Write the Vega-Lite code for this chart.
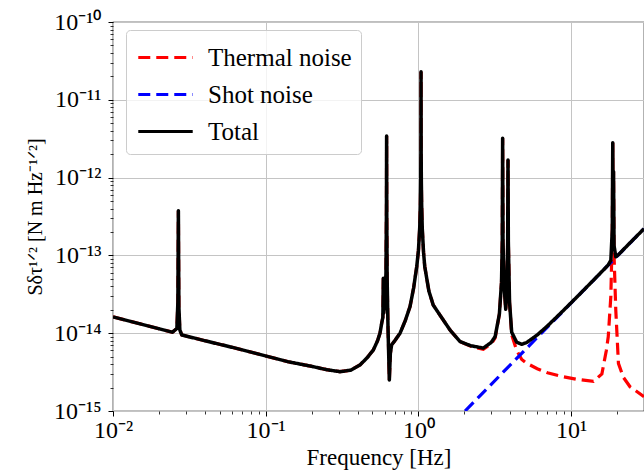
{
  "$schema": "https://vega.github.io/schema/vega-lite/v6.json",
  "width": 531,
  "height": 389,
  "autosize": "none",
  "padding": {"left": 113, "top": 22, "right": 0, "bottom": 61},
  "background": "white",
  "config": {
    "font": "Liberation Serif",
    "view": {"stroke": "black", "strokeWidth": 1.2}
  },
  "datasets": {
    "thermal": [
      {"f": 0.01, "S": 1.62e-14}, {"f": 0.015, "S": 1.32e-14}, {"f": 0.02, "S": 1.14e-14}, {"f": 0.0245, "S": 1.03e-14},
      {"f": 0.0262, "S": 1.15e-14}, {"f": 0.0266, "S": 2.5e-14}, {"f": 0.0268, "S": 3.76e-13}, {"f": 0.027, "S": 2.2e-14},
      {"f": 0.0274, "S": 1.1e-14}, {"f": 0.0282, "S": 9.5e-15}, {"f": 0.04, "S": 8.0e-15}, {"f": 0.06, "S": 6.6e-15},
      {"f": 0.1, "S": 5.1e-15}, {"f": 0.14, "S": 4.3e-15}, {"f": 0.2, "S": 3.75e-15}, {"f": 0.25, "S": 3.4e-15},
      {"f": 0.307, "S": 3.2e-15}, {"f": 0.36, "S": 3.35e-15}, {"f": 0.414, "S": 3.9e-15}, {"f": 0.46, "S": 4.8e-15},
      {"f": 0.507, "S": 6.1e-15}, {"f": 0.54, "S": 8.0e-15}, {"f": 0.56, "S": 1.0e-14}, {"f": 0.575, "S": 1.35e-14},
      {"f": 0.585, "S": 1.6e-14}, {"f": 0.589, "S": 5.1e-14}, {"f": 0.592, "S": 1.8e-14}, {"f": 0.605, "S": 2.5e-14},
      {"f": 0.613, "S": 6.0e-14}, {"f": 0.6175, "S": 4.0e-13}, {"f": 0.619, "S": 3.43e-12}, {"f": 0.6205, "S": 3.0e-13},
      {"f": 0.624, "S": 5.0e-14}, {"f": 0.632, "S": 1.2e-14}, {"f": 0.645, "S": 2.5e-15}, {"f": 0.655, "S": 5.5e-15},
      {"f": 0.668, "S": 7.1e-15}, {"f": 0.7, "S": 8.0e-15}, {"f": 0.758, "S": 1.0e-14}, {"f": 0.82, "S": 1.45e-14},
      {"f": 0.881, "S": 2.2e-14}, {"f": 0.93, "S": 3.8e-14}, {"f": 0.975, "S": 7.2e-14}, {"f": 1.0, "S": 1.15e-13},
      {"f": 1.02, "S": 2.3e-13}, {"f": 1.03, "S": 4.5e-13}, {"f": 1.035, "S": 9e-13}, {"f": 1.038, "S": 2.3e-12},
      {"f": 1.04, "S": 2.3e-11}, {"f": 1.042, "S": 2.2e-12}, {"f": 1.045, "S": 9e-13}, {"f": 1.05, "S": 4.5e-13},
      {"f": 1.06, "S": 2.2e-13}, {"f": 1.08, "S": 1.1e-13}, {"f": 1.1, "S": 7.2e-14}, {"f": 1.17, "S": 3.5e-14},
      {"f": 1.25, "S": 2.3e-14}, {"f": 1.386, "S": 1.7e-14}, {"f": 1.61, "S": 1.1e-14}, {"f": 1.873, "S": 7.8e-15},
      {"f": 2.2, "S": 6.8e-15}, {"f": 2.66, "S": 6.2e-15}, {"f": 3.0, "S": 7.3e-15}, {"f": 3.18, "S": 8.7e-15},
      {"f": 3.39, "S": 1.75e-14}, {"f": 3.5, "S": 4.5e-14}, {"f": 3.54, "S": 1.5e-13}, {"f": 3.56, "S": 3.2e-12},
      {"f": 3.58, "S": 1.5e-13}, {"f": 3.64, "S": 4e-14}, {"f": 3.73, "S": 2.0e-14}, {"f": 3.8, "S": 4e-14},
      {"f": 3.84, "S": 1.5e-13}, {"f": 3.86, "S": 1.68e-12}, {"f": 3.88, "S": 1.5e-13}, {"f": 3.95, "S": 2.5e-14},
      {"f": 4.08, "S": 9.5e-15}, {"f": 4.4, "S": 6.0e-15}, {"f": 4.75, "S": 4.6e-15}, {"f": 5.12, "S": 4.1e-15},
      {"f": 6.0, "S": 3.5e-15}, {"f": 7.0, "S": 3.1e-15}, {"f": 8.9, "S": 2.75e-15}, {"f": 11, "S": 2.55e-15},
      {"f": 14, "S": 2.4e-15}, {"f": 15.9, "S": 3.0e-15}, {"f": 17.0, "S": 6.0e-15}, {"f": 17.5, "S": 9.0e-15},
      {"f": 18.2, "S": 3.0e-14}, {"f": 18.6, "S": 2.0e-13}, {"f": 18.73, "S": 2.8e-12}, {"f": 18.85, "S": 2.0e-13},
      {"f": 18.95, "S": 1.2e-12}, {"f": 19.1, "S": 1.0e-13}, {"f": 19.6, "S": 2.0e-14}, {"f": 20.4, "S": 4.1e-15},
      {"f": 22, "S": 2.7e-15}, {"f": 24.3, "S": 2.05e-15}, {"f": 30, "S": 1.53e-15}
    ],
    "shot": [
      {"f": 2.02, "S": 1.0e-15}, {"f": 30, "S": 2.2e-13}
    ],
    "total": [
      {"f": 0.01, "S": 1.62e-14}, {"f": 0.015, "S": 1.32e-14}, {"f": 0.02, "S": 1.14e-14}, {"f": 0.0245, "S": 1.03e-14},
      {"f": 0.0262, "S": 1.15e-14}, {"f": 0.0266, "S": 2.5e-14}, {"f": 0.0268, "S": 3.76e-13}, {"f": 0.027, "S": 2.2e-14},
      {"f": 0.0274, "S": 1.1e-14}, {"f": 0.0282, "S": 9.5e-15}, {"f": 0.04, "S": 8.0e-15}, {"f": 0.06, "S": 6.6e-15},
      {"f": 0.1, "S": 5.1e-15}, {"f": 0.14, "S": 4.3e-15}, {"f": 0.2, "S": 3.75e-15}, {"f": 0.25, "S": 3.4e-15},
      {"f": 0.307, "S": 3.2e-15}, {"f": 0.36, "S": 3.35e-15}, {"f": 0.414, "S": 3.9e-15}, {"f": 0.46, "S": 4.8e-15},
      {"f": 0.507, "S": 6.1e-15}, {"f": 0.54, "S": 8.0e-15}, {"f": 0.56, "S": 1.0e-14}, {"f": 0.575, "S": 1.35e-14},
      {"f": 0.585, "S": 1.6e-14}, {"f": 0.589, "S": 5.1e-14}, {"f": 0.592, "S": 1.8e-14}, {"f": 0.605, "S": 2.5e-14},
      {"f": 0.613, "S": 6.0e-14}, {"f": 0.6175, "S": 4.0e-13}, {"f": 0.619, "S": 3.43e-12}, {"f": 0.6205, "S": 3.0e-13},
      {"f": 0.624, "S": 5.0e-14}, {"f": 0.632, "S": 1.2e-14}, {"f": 0.645, "S": 2.5e-15}, {"f": 0.655, "S": 5.5e-15},
      {"f": 0.668, "S": 7.1e-15}, {"f": 0.7, "S": 8.0e-15}, {"f": 0.758, "S": 1.0e-14}, {"f": 0.82, "S": 1.45e-14},
      {"f": 0.881, "S": 2.2e-14}, {"f": 0.93, "S": 3.8e-14}, {"f": 0.975, "S": 7.2e-14}, {"f": 1.0, "S": 1.15e-13},
      {"f": 1.02, "S": 2.3e-13}, {"f": 1.03, "S": 4.5e-13}, {"f": 1.035, "S": 9e-13}, {"f": 1.038, "S": 2.3e-12},
      {"f": 1.04, "S": 2.3e-11}, {"f": 1.042, "S": 2.2e-12}, {"f": 1.045, "S": 9e-13}, {"f": 1.05, "S": 4.5e-13},
      {"f": 1.06, "S": 2.2e-13}, {"f": 1.08, "S": 1.1e-13}, {"f": 1.1, "S": 7.2e-14}, {"f": 1.17, "S": 3.5e-14},
      {"f": 1.25, "S": 2.3e-14}, {"f": 1.386, "S": 1.7e-14}, {"f": 1.61, "S": 1.1e-14}, {"f": 1.873, "S": 7.8e-15},
      {"f": 2.2, "S": 6.9e-15}, {"f": 2.66, "S": 6.44e-15}, {"f": 3.0, "S": 7.62e-15}, {"f": 3.18, "S": 9.05e-15},
      {"f": 3.39, "S": 1.77e-14}, {"f": 3.5, "S": 4.5e-14}, {"f": 3.54, "S": 1.5e-13}, {"f": 3.56, "S": 3.2e-12},
      {"f": 3.58, "S": 1.5e-13}, {"f": 3.64, "S": 4e-14}, {"f": 3.73, "S": 2.03e-14}, {"f": 3.8, "S": 4e-14},
      {"f": 3.84, "S": 1.5e-13}, {"f": 3.86, "S": 1.68e-12}, {"f": 3.88, "S": 1.5e-13}, {"f": 3.95, "S": 2.53e-14},
      {"f": 4.08, "S": 1.03e-14}, {"f": 4.4, "S": 7.65e-15}, {"f": 4.75, "S": 7.2e-15}, {"f": 5.12, "S": 7.6e-15},
      {"f": 6.0, "S": 9.5e-15}, {"f": 7.0, "S": 1.24e-14}, {"f": 8.9, "S": 1.96e-14}, {"f": 11, "S": 2.97e-14},
      {"f": 14, "S": 4.8e-14}, {"f": 15.9, "S": 6.2e-14}, {"f": 17.0, "S": 7.1e-14}, {"f": 17.5, "S": 7.55e-14},
      {"f": 18.2, "S": 8.66e-14}, {"f": 18.6, "S": 2.17e-13}, {"f": 18.73, "S": 2.8e-12}, {"f": 18.85, "S": 2.18e-13},
      {"f": 18.95, "S": 1.2e-12}, {"f": 19.1, "S": 1.34e-13}, {"f": 19.6, "S": 9.6e-14}, {"f": 20.4, "S": 1.02e-13},
      {"f": 22, "S": 1.19e-13}, {"f": 24.3, "S": 1.45e-13}, {"f": 30, "S": 2.2e-13}
    ]
  },
  "resolve": {"axis": {"x": "independent", "y": "independent"}},
  "layer": [
    {
      "data": {"name": "thermal"},
      "mark": {"type": "line", "clip": true, "strokeWidth": 3.2, "strokeCap": "butt"},
      "encoding": {
        "x": {"field": "f", "type": "quantitative",
          "scale": {"type": "log", "domain": [0.01, 30], "nice": false},
          "axis": {"orient": "bottom", "values": [0.02,0.03,0.04,0.05,0.06,0.07,0.08,0.09,0.2,0.3,0.4,0.5,0.6,0.7,0.8,0.9,2,3,4,5,6,7,8,9,20],
            "labels": false, "grid": false, "domain": false, "tickSize": 3, "tickColor": "black", "tickWidth": 0.8, "title": null}},
        "y": {"field": "S", "type": "quantitative",
          "scale": {"type": "log", "domain": [1e-15, 1e-10], "nice": false},
          "axis": {"orient": "left", "values": [2e-15,3e-15,4e-15,5e-15,6e-15,7e-15,8e-15,9e-15,2e-14,3e-14,4e-14,5e-14,6e-14,7e-14,8e-14,9e-14,2e-13,3e-13,4e-13,5e-13,6e-13,7e-13,8e-13,9e-13,2e-12,3e-12,4e-12,5e-12,6e-12,7e-12,8e-12,9e-12,2e-11,3e-11,4e-11,5e-11,6e-11,7e-11,8e-11,9e-11],
            "labels": false, "grid": false, "domain": false, "tickSize": 3, "tickColor": "black", "tickWidth": 0.8, "title": null}},
        "color": {"datum": "Thermal noise", "type": "nominal",
          "scale": {"domain": ["Thermal noise", "Shot noise", "Total"], "range": ["#ff0000", "#0000ff", "#000000"]},
          "legend": {"orient": "none", "legendX": 13, "legendY": 8, "title": null, "symbolType": "M-1.65,0H1.65", "symbolSize": 1089, "symbolStrokeWidth": 3.2, "symbolOffset": 12, "labelOffset": 24, "labelFontSize": 25, "labelFont": "Liberation Serif", "labelColor": "black", "padding": 9, "rowPadding": 5, "fillColor": "rgba(255,255,255,0.8)", "strokeColor": "#cccccc", "cornerRadius": 4}},
        "strokeDash": {"datum": "Thermal noise", "type": "nominal",
          "scale": {"domain": ["Thermal noise", "Shot noise", "Total"], "range": [[12, 6], [12, 6], [1, 0]]},
          "legend": {"orient": "none", "legendX": 13, "legendY": 8, "title": null, "symbolType": "M-1.65,0H1.65", "symbolSize": 1089, "symbolStrokeWidth": 3.2, "symbolOffset": 12, "labelOffset": 24, "labelFontSize": 25, "labelFont": "Liberation Serif", "labelColor": "black", "padding": 9, "rowPadding": 5, "fillColor": "rgba(255,255,255,0.8)", "strokeColor": "#cccccc", "cornerRadius": 4}}
      }
    },
    {
      "data": {"name": "shot"},
      "mark": {"type": "line", "clip": true, "strokeWidth": 3.2, "strokeCap": "butt"},
      "encoding": {
        "x": {"field": "f", "type": "quantitative", "axis": null},
        "y": {"field": "S", "type": "quantitative", "axis": null},
        "color": {"datum": "Shot noise", "type": "nominal"},
        "strokeDash": {"datum": "Shot noise", "type": "nominal"}
      }
    },
    {
      "data": {"name": "total"},
      "mark": {"type": "line", "clip": true, "strokeWidth": 3.5, "strokeJoin": "round"},
      "encoding": {
        "x": {"field": "f", "type": "quantitative",
          "axis": {"orient": "bottom", "values": [0.01, 0.1, 1, 10],
            "labelExpr": "datum.value < 0.05 ? '10⁻²' : datum.value < 0.5 ? '10⁻¹' : datum.value < 5 ? '10⁰' : '10¹'",
            "grid": true, "gridColor": "#c4c4c4", "gridWidth": 1, "domain": false, "tickSize": 5, "tickColor": "black", "tickWidth": 1,
            "labelFontSize": 24, "labelFont": "Liberation Serif", "labelColor": "black", "labelPadding": 2, "labelFlush": false, "labelOverlap": false,
            "title": "Frequency [Hz]", "titleFontSize": 23, "titleFont": "Liberation Serif", "titleFontWeight": "normal", "titleColor": "black", "titlePadding": 4}},
        "y": {"field": "S", "type": "quantitative",
          "axis": {"orient": "left", "values": [1e-15, 1e-14, 1e-13, 1e-12, 1e-11, 1e-10],
            "labelExpr": "datum.value < 5e-15 ? '10⁻¹⁵' : datum.value < 5e-14 ? '10⁻¹⁴' : datum.value < 5e-13 ? '10⁻¹³' : datum.value < 5e-12 ? '10⁻¹²' : datum.value < 5e-11 ? '10⁻¹¹' : '10⁻¹⁰'",
            "grid": true, "gridColor": "#c4c4c4", "gridWidth": 1, "domain": false, "tickSize": 5, "tickColor": "black", "tickWidth": 1,
            "labelFontSize": 24, "labelFont": "Liberation Serif", "labelColor": "black", "labelPadding": 7, "labelFlush": false, "labelOverlap": false,
            "title": "Sδτ¹ᐟ² [N m Hz⁻¹ᐟ²]", "titleFontSize": 20, "titleFont": "Liberation Serif", "titleFontWeight": "normal", "titleColor": "black", "titlePadding": 8}},
        "color": {"datum": "Total", "type": "nominal"},
        "strokeDash": {"datum": "Total", "type": "nominal"}
      }
    }
  ]
}
